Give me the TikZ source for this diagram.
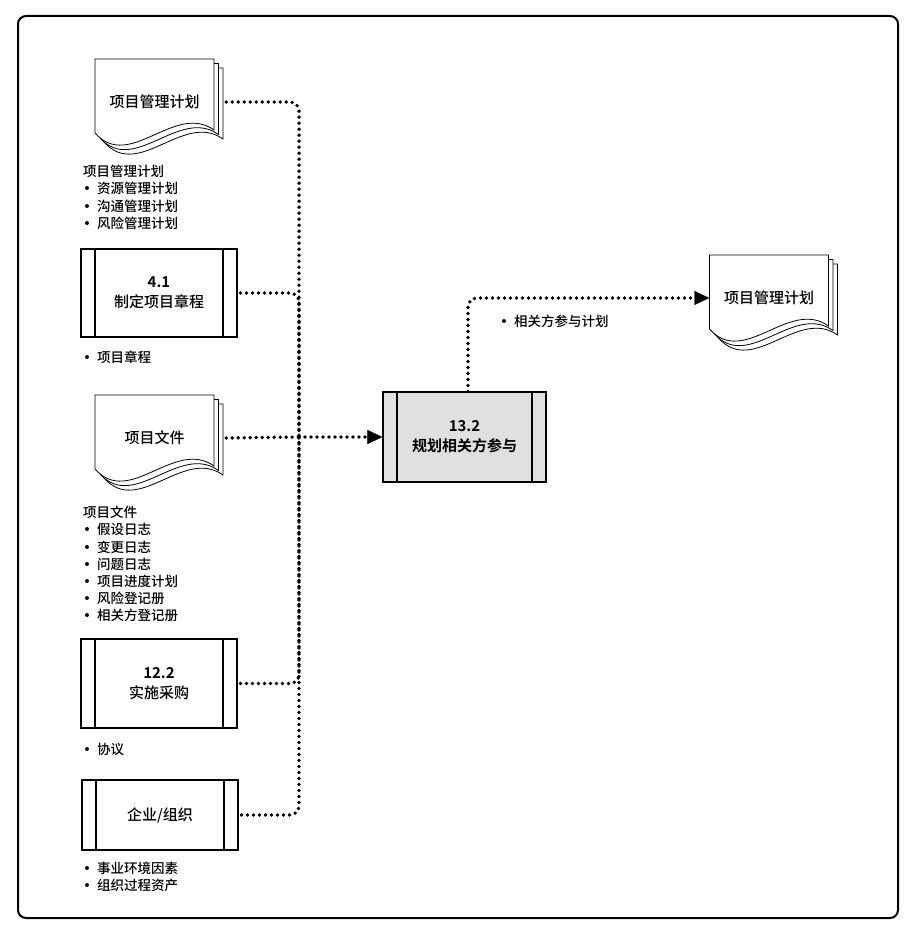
\documentclass[tikz,border=0pt]{standalone}
\usepackage{fontspec}
\setmainfont{Noto Sans CJK SC}[UprightFont=* Medium, BoldFont=* Bold]
\newfontfamily\dotfont{DejaVu Sans}
\usetikzlibrary{arrows.meta,positioning,backgrounds}

\newcommand{\listdot}{\makebox[14pt][l]{\dotfont •}}

\begin{document}
\begin{tikzpicture}[
    x=1pt, y=-1pt,
    page/.style={draw, fill=white, line width=0.8pt},
    doc/.style={rectangle, minimum width=119pt, inner sep=0pt, font=\fontsize{15}{18}\selectfont},
    process/.style={draw, fill=white, rectangle, line width=1.1pt, minimum width=156pt, minimum height=88pt, align=center, font=\fontsize{15}{20}\selectfont,
        path picture={\draw[line width=1.1pt]
            ([xshift=14pt]path picture bounding box.north west) -- ([xshift=14pt]path picture bounding box.south west)
            ([xshift=-14pt]path picture bounding box.north east) -- ([xshift=-14pt]path picture bounding box.south east);}},
    main/.style={process, fill=black!12, minimum width=163pt, minimum height=90pt, font=\fontsize{15}{20}\selectfont\bfseries},
    note/.style={anchor=north west, align=left, inner sep=0pt, font=\fontsize{13.5}{17.2}\selectfont},
    flow/.style={line width=3.8pt, line cap=round, dash pattern=on 0pt off 6pt, rounded corners=9pt},
    arrow/.style={flow, -{Triangle[length=15pt, width=14pt, line width=0.4pt]}}
]
\useasboundingbox (0,0) rectangle (920,934);

% Frame
\draw[line width=2pt, rounded corners=8pt] (18,16) rectangle (898,918);

% Inputs
\node[doc] (planin) at (154.5,102) {项目管理计划};
\node[note] (planlist) at (83,165) {项目管理计划\\ \listdot 资源管理计划\\ \listdot 沟通管理计划\\ \listdot 风险管理计划};

\node[process] (charter) at (159,293) {\textbf{4.1}\\制定项目章程};
\node[note] (charterlist) at (83,351) {\listdot 项目章程};

\node[doc] (docsin) at (154.5,438) {项目文件};
\node[note] (docslist) at (83,506) {项目文件\\ \listdot 假设日志\\ \listdot 变更日志\\ \listdot 问题日志\\ \listdot 项目进度计划\\ \listdot 风险登记册\\ \listdot 相关方登记册};

\node[process, minimum height=89pt] (procure) at (159,683.5) {\textbf{12.2}\\实施采购};
\node[note] (procurelist) at (83,743) {\listdot 协议};

\node[process, minimum height=70pt] (org) at (160,815) {企业/组织};
\node[note] (orglist) at (83,862) {\listdot 事业环境因素\\ \listdot 组织过程资产};

% Process
\node[main] (plan) at (464.5,437) {13.2\\规划相关方参与};

% Output
\node[doc] (outdoc) at (769,298) {项目管理计划};
\node[note] (outlist) at (500,315) {\listdot 相关方参与计划};

% Document pages
\begin{scope}[on background layer]
\foreach \d in {planin, docsin, outdoc}
    \foreach \o in {9, 4.5, 0} {
        \begin{scope}[shift={(\d.center)}, xshift=\o pt, yshift=-\o pt]
            \draw[page] (-59.5,-43) -- (59.5,-43) -- (59.5,28) .. controls (20,0) and (-25,70) .. (-59.5,31) -- cycle;
        \end{scope}
    }
\end{scope}

% Arrows
\coordinate (bus) at (299,437);
\draw[flow] ([xshift=12pt]planin.east) -| (bus);
\draw[flow] ([xshift=12pt]docsin.east) -- (bus);
\foreach \i in {charter, procure, org}
    \draw[flow] ([xshift=3pt]\i.east) -| (bus);

\draw[arrow] (bus) -- (plan.west);
\draw[arrow] ([xshift=3.5pt]plan.north) |- (outdoc.west);
\end{tikzpicture}
\end{document}
